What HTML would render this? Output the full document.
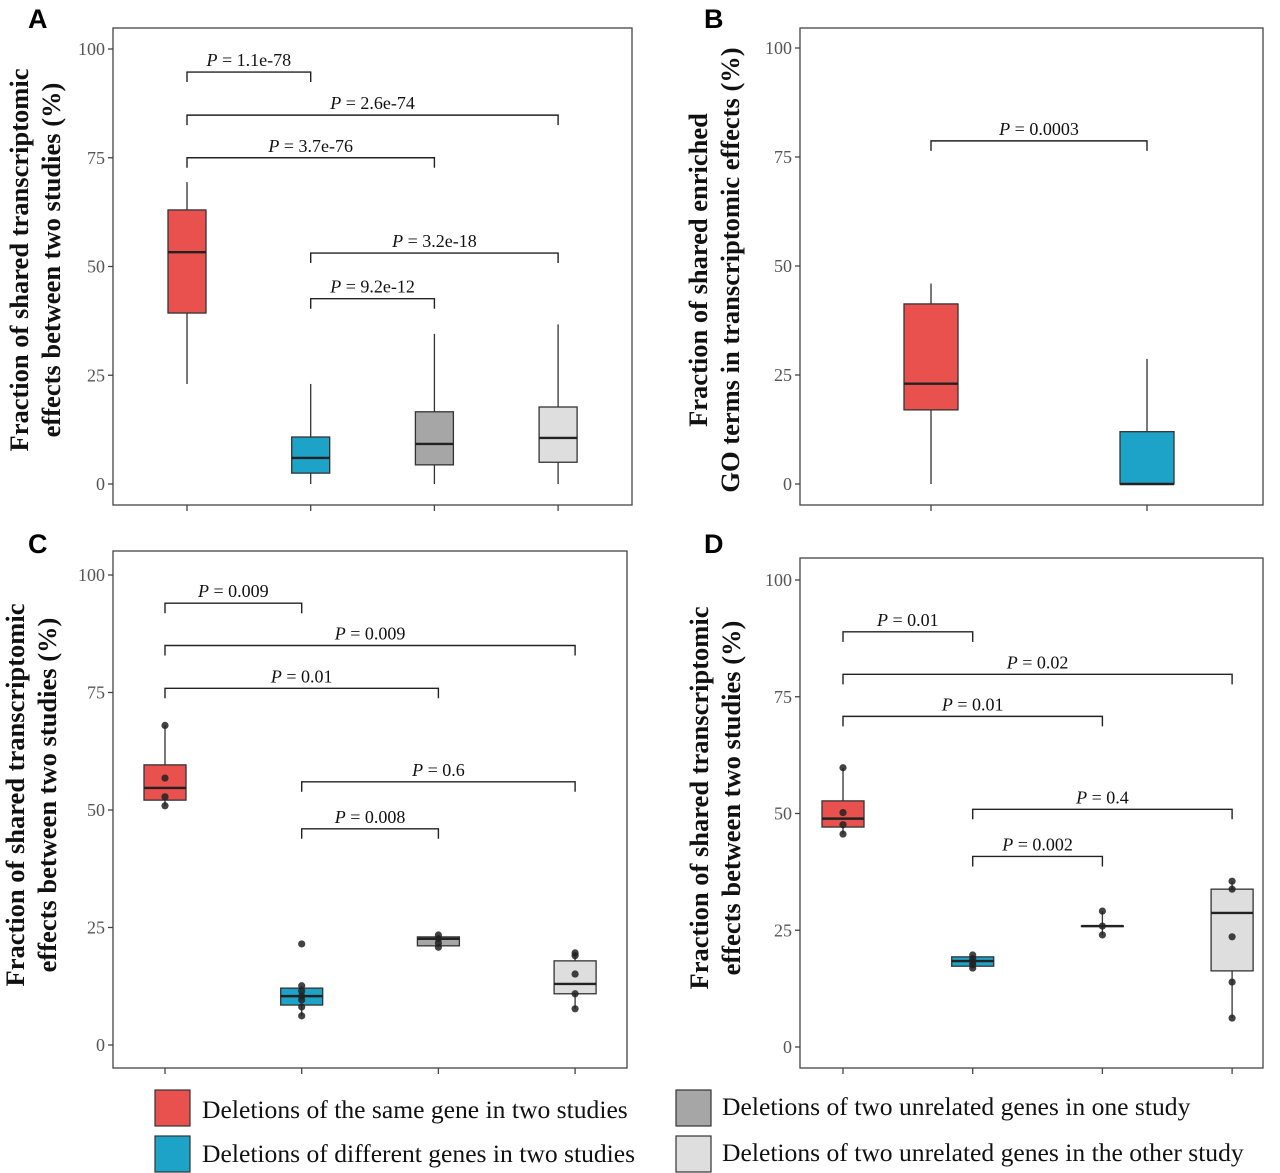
<!DOCTYPE html>
<html><head><meta charset="utf-8">
<style>
body{margin:0;background:#fff;width:1280px;height:1173px;overflow:hidden;font-family:"Liberation Serif",serif}
svg{display:block}
</style></head>
<body>
<svg id="fig" width="1280" height="1173" viewBox="0 0 1280 1173">
<g id="legend" font-family="Liberation Serif, serif" font-size="25.6" fill="#111">
  <g><rect x="155" y="1090" width="35" height="36" fill="#E8514D" stroke="#333" stroke-width="1.2"/><text x="202" y="1118">Deletions of the same gene in two studies</text></g>
  <g><rect x="155" y="1136" width="35" height="36" fill="#1DA3C8" stroke="#333" stroke-width="1.2"/><text x="202" y="1162">Deletions of different genes in two studies</text></g>
  <g><rect x="676" y="1090" width="35" height="36" fill="#A6A6A6" stroke="#333" stroke-width="1.2"/><text x="722" y="1115">Deletions of two unrelated genes in one study</text></g>
  <g><rect x="676" y="1136" width="35" height="36" fill="#DEDEDE" stroke="#333" stroke-width="1.2"/><text x="722" y="1161">Deletions of two unrelated genes in the other study</text></g>
</g>
</svg>
<script>
// ---- data ----
const colorsAll = ["#E8514D","#1DA3C8","#A6A6A6","#DEDEDE"];
const yTicks = [0,25,50,75,100];
const yTickLabels = ["0","25","50","75","100"];
// Panel A: [low, q1, median, q3, high]
const statsA = [[23,39.3,53.3,63,69.4],[0,2.5,6,10.8,23],[0,4.4,9.2,16.6,34.5],[0,5,10.6,17.7,36.7]];
const bracketsA = [[0,1,94.7,"1.1e-78"],[0,3,84.8,"2.6e-74"],[0,2,75,"3.7e-76"],[1,3,53.1,"3.2e-18"],[1,2,42.6,"9.2e-12"]];
// Panel B
const statsB = [[0,17,23,41.3,46],[0,0,0,12,28.7]];
const bracketsB = [[0,1,78.7,"0.0003"]];
// Panel C
const statsC = [[50.9,52.1,54.7,59.6,68],[6.2,8.5,10.4,12.1,12.6],[20.8,21.1,22.6,23,23.4],[7.7,10.9,13,17.9,19.6]];
const pointsC = [[68,56.8,52.8,50.9],[21.5,12.6,11.5,10.4,9.6,8.1,6.2],[23.4,22.6,21.7,20.8],[19.6,19,15.1,10.9,7.7]];
const bracketsC = [[0,1,94,"0.009"],[0,3,85,"0.009"],[0,2,75.9,"0.01"],[1,3,56,"0.6"],[1,2,46,"0.008"]];
// Panel D
const statsD = [[45.6,47.1,48.9,52.7,59.8],[16.9,17.3,18.4,19.3,19.7],[24,25.9,25.9,25.9,29.1],[6.2,16.3,28.7,33.8,35.5]];
const pointsD = [[59.8,50.2,47.6,45.6],[19.7,18.8,18.2,17.6,16.9],[29.1,25.9,24],[35.5,33.8,23.6,13.9,6.2]];
const bracketsD = [[0,1,88.9,"0.01"],[0,3,79.8,"0.02"],[0,2,70.8,"0.01"],[1,3,50.9,"0.4"],[1,2,40.8,"0.002"]];

const NS="http://www.w3.org/2000/svg";
const fig=document.getElementById('fig');
function mk(tag,attrs,parent){const e=document.createElementNS(NS,tag);for(const k in attrs)e.setAttribute(k,attrs[k]);(parent||fig).appendChild(e);return e;}

function panel(cfg){
  const g=mk('g',{});
  
  
  const y=v=>cfg.y0+(cfg.y100-cfg.y0)*v/100;
  const x=i=>cfg.cx0+i*cfg.dx;
  const fr=mk('rect',{x:cfg.fx,y:cfg.fy,width:cfg.fw,height:cfg.fh,fill:'none',stroke:'#444','stroke-width':1.3},g);
  
  
  const lt=mk('text',{x:cfg.lx,y:cfg.ly,'font-family':'Liberation Sans, sans-serif','font-weight':'bold','font-size':27,fill:'#000'},g);
  lt.textContent=cfg.letter;
  
  
  yTicks.forEach((t,i)=>{
    mk('line',{x1:cfg.fx-5,x2:cfg.fx,y1:y(t),y2:y(t),stroke:'#444','stroke-width':1.3},g);
    const tl=mk('text',{x:cfg.fx-8,y:y(t)+6,'text-anchor':'end','font-size':18,fill:'#555'},g);
    tl.textContent=yTickLabels[i];
    
    
  });
  cfg.stats.forEach((s,i)=>{
    mk('line',{x1:x(i),x2:x(i),y1:cfg.fy+cfg.fh,y2:cfg.fy+cfg.fh+6,stroke:'#444','stroke-width':1.3},g);
    const bg=mk('g',{},g);
    
    
    const hw=cfg.bw/2;
    mk('line',{x1:x(i),x2:x(i),y1:y(s[0]),y2:y(s[4]),stroke:'#333','stroke-width':1.3},bg);
    mk('rect',{x:x(i)-hw,y:y(s[3]),width:cfg.bw,height:Math.max(0.5,y(s[1])-y(s[3])),fill:colorsAll[i],stroke:'#333','stroke-width':1.3},bg);
    mk('line',{x1:x(i)-hw,x2:x(i)+hw,y1:y(s[2]),y2:y(s[2]),stroke:'#222','stroke-width':2.4},bg);
    if(cfg.points){cfg.points[i].forEach(p=>{
      const c=mk('circle',{cx:x(i),cy:y(p),r:3.6,fill:'#222','fill-opacity':0.85},bg);
      
      
    });}
  });
  cfg.brackets.forEach(b=>{
    const bg=mk('g',{},g);
    
    
    const yy=y(b[2]);
    mk('path',{d:`M${x(b[0])},${yy+10}V${yy}H${x(b[1])}V${yy+10}`,fill:'none',stroke:'#222','stroke-width':1.4},bg);
    const t=mk('text',{x:(x(b[0])+x(b[1]))/2,y:yy-6,'text-anchor':'middle','font-size':18,fill:'#111'},bg);
    t.innerHTML='<tspan font-style="italic">P</tspan> = '+b[3];
  });
  const yt=mk('text',{transform:`translate(${cfg.tx},${cfg.ty}) rotate(-90)`,'text-anchor':'middle','font-weight':'bold','font-size':26.5,fill:'#111'},g);
  
  
  cfg.title.forEach((line,k)=>{const ts=mk('tspan',{x:0,y:k*32},yt);ts.textContent=line;});
}
const t1=["Fraction of shared transcriptomic","effects between two studies (%)"];
panel({letter:'A',lx:28,ly:28,fx:113,fy:28,fw:519,fh:477,y0:484,y100:49,cx0:187,dx:123.7,bw:38,stats:statsA,brackets:bracketsA,title:t1,tx:28,ty:260});
panel({letter:'B',lx:704,ly:28,fx:800,fy:28,fw:463,fh:477,y0:484,y100:48,cx0:931,dx:216,bw:54,stats:statsB,brackets:bracketsB,title:["Fraction of shared enriched","GO terms in transcriptomic effects (%)"],tx:707,ty:270});
panel({letter:'C',lx:28,ly:553,fx:113,fy:551,fw:514,fh:517,y0:1045,y100:575,cx0:165,dx:136.7,bw:42,stats:statsC,points:pointsC,brackets:bracketsC,title:t1,tx:24,ty:795});
panel({letter:'D',lx:704,ly:553,fx:800,fy:558,fw:463,fh:510,y0:1047,y100:580,cx0:843,dx:129.7,bw:42,stats:statsD,points:pointsD,brackets:bracketsD,title:t1,tx:708,ty:798});
</script>
</body></html>
